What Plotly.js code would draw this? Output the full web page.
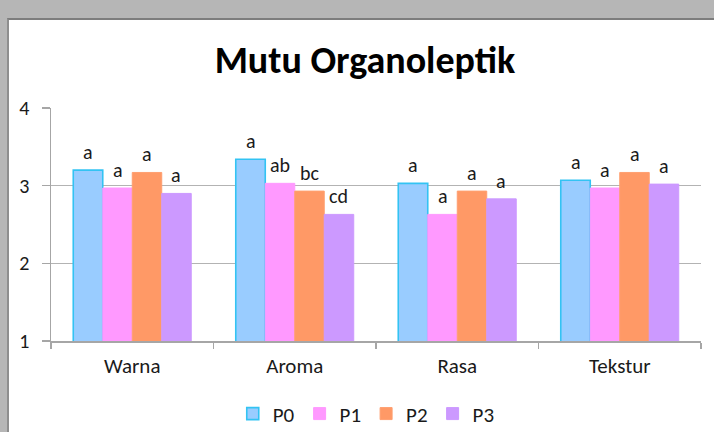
<!DOCTYPE html>
<html><head><meta charset="utf-8">
<script src="https://cdn.plot.ly/plotly-3.0.1.min.js"></script>
<style>
html,body{margin:0;padding:0;width:714px;height:432px;overflow:hidden;background:#b6b6b6;}
#chart{position:absolute;left:7px;top:18px;width:707px;height:414px;background:#fff;border-top:2px solid #7d7d7d;border-left:2px solid #8e8e8e;}
</style></head>
<body><div id="chart"></div>
<script>
const categories = ['Warna','Aroma','Rasa','Tekstur'];
const seriesNames = ['P0','P1','P2','P3'];
const P0 = [3.20, 3.34, 3.03, 3.07];
const P1 = [2.97, 3.03, 2.63, 2.97];
const P2 = [3.17, 2.93, 2.93, 3.17];
const P3 = [2.90, 2.63, 2.83, 3.02];
const L0 = ['a','a','a','a'];
const L1 = ['a','ab','a','a'];
const L2 = ['a','bc','a','a'];
const L3 = ['a','cd','a','a'];
const yTicks = [1,2,3,4];

const values = [P0,P1,P2,P3];
const letters = [L0,L1,L2,L3];
const fills = ['#99ccff','#ff99ff','#ff9966','#cc99ff'];
const edges = ['#33c3f3','#ff99ff','#ff9f70','#cc99ff'];
const bargap = 0.274;
const font = 'Carlito, Open Sans, Liberation Sans, sans-serif';

const traces = values.map((v,k)=>({
  type:'bar', name:seriesNames[k], x:categories, y:v,
  marker:{color:fills[k], line:{color:edges[k], width:k===0?1.6:1}},
  hoverinfo:'skip'
}));

const bw = (1-bargap)/seriesNames.length;
const annotations = [];
values.forEach((v,k)=>{
  v.forEach((val,i)=>{
    annotations.push({
      x: i + (k-(seriesNames.length-1)/2)*bw, y: val, xref:'x', yref:'y',
      text: letters[k][i], showarrow:false, yanchor:'bottom', yshift:4,
      font:{family:font, size:20, color:'#1a1a1a'}
    });
  });
});

const layout = {
  width:707, height:414,
  margin:{l:42, r:15, t:88, b:93, autoexpand:false},
  paper_bgcolor:'#ffffff', plot_bgcolor:'#ffffff',
  barmode:'group', bargap:bargap, bargroupgap:0,
  title:{text:'<b>Mutu Organoleptik</b>', x:0.5035, xref:'container', xanchor:'center',
         y:1-40/414, yref:'container', yanchor:'middle',
         font:{family:font, size:38, color:'#000'}},
  xaxis:{type:'category', range:[-0.5,3.5], showline:true, linecolor:'#a6a6a6', linewidth:1.5,
         ticks:'outside', tickson:'boundaries', ticklen:6, tickcolor:'#a6a6a6', tickwidth:1.5,
         ticklabelstandoff:5,
         showgrid:false, tickfont:{family:font, size:21, color:'#1a1a1a'}, fixedrange:true},
  yaxis:{range:[1,4], tickvals:yTicks, showline:true, linecolor:'#a6a6a6', linewidth:1.5,
         ticks:'outside', ticklen:8, tickcolor:'#a6a6a6', tickwidth:1.5, ticklabelstandoff:8,
         showgrid:true, gridcolor:'#b3b3b3', gridwidth:1.5, zeroline:false,
         tickfont:{family:font, size:20, color:'#1a1a1a'}, fixedrange:true},
  showlegend:true,
  legend:{orientation:'h', x:0.485, xanchor:'center', y:-0.313, yanchor:'middle',
          font:{family:font, size:21, color:'#1a1a1a'}, itemwidth:30, tracegroupgap:0},
  annotations:annotations
};
Plotly.newPlot('chart', traces, layout, {displayModeBar:false, staticPlot:true});
</script></body></html>
